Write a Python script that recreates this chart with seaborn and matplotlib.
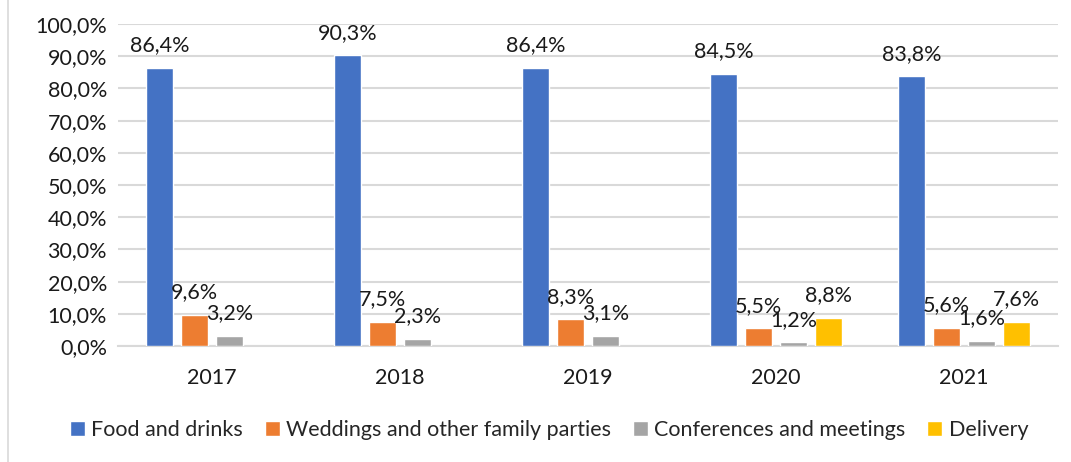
import numpy as np
import pandas as pd
import seaborn as sns
import matplotlib.pyplot as plt
from matplotlib.patches import Rectangle

years = ["2017", "2018", "2019", "2020", "2021"]
series = ["Food and drinks", "Weddings and other family parties",
          "Conferences and meetings", "Delivery"]
food = [86.4, 90.3, 86.4, 84.5, 83.8]
weddings = [9.6, 7.5, 8.3, 5.5, 5.6]
conferences = [3.2, 2.3, 3.1, 1.2, 1.6]
delivery = [np.nan, np.nan, np.nan, 8.8, 7.6]

colors = ["#4472C4", "#ED7D31", "#A5A5A5", "#FFC000"]

rows = []
for name, vals in zip(series, [food, weddings, conferences, delivery]):
    for y, v in zip(years, vals):
        rows.append({"year": y, "serie": name, "valor": v})
df = pd.DataFrame(rows)

sns.set_theme(style="white")
plt.rcParams['font.family'] = ['Lato', 'DejaVu Sans']

fig = plt.figure(figsize=(10.71, 4.62), dpi=100)
ax = fig.add_axes([118 / 1071, 1 - 346 / 462, 940 / 1071, 322 / 462])

sns.barplot(data=df, x="year", y="valor", hue="serie", palette=colors,
            saturation=1, width=0.74, gap=0.22, ax=ax, legend=True, zorder=3)

fs = 15.5
# etiquetas de datos encima de cada barra
for cont in ax.containers:
    for bar in cont:
        h = bar.get_height()
        if np.isnan(h) or h == 0:
            continue
        ax.annotate(f"{h:.1f}%".replace(".", ","),
                    (bar.get_x() + bar.get_width() / 2, h),
                    xytext=(0, 9), textcoords="offset points",
                    ha="center", va="bottom", fontsize=fs, color="#1a1a1a")

ax.set_ylim(0, 100)
ax.set_yticks(range(0, 101, 10))
ax.set_yticklabels([f"{t},0%" for t in range(0, 101, 10)], fontsize=fs, color="#1a1a1a")
ax.tick_params(axis="x", labelsize=fs, colors="#1a1a1a", pad=16, length=0)
ax.tick_params(axis="y", pad=8, length=0)
ax.set_xlabel("")
ax.set_ylabel("")
ax.grid(axis="y", color="#d9d9d9", linewidth=1.5, zorder=0)
ax.set_axisbelow(True)
for s in ["top", "right", "left"]:
    ax.spines[s].set_visible(False)
ax.spines["bottom"].set_color("#d9d9d9")
ax.spines["bottom"].set_linewidth(1.5)

ax.legend(loc="center", bbox_to_anchor=(549 / 1071, 1 - 430 / 462),
          bbox_transform=fig.transFigure, ncol=4, frameon=False,
          fontsize=fs, handlelength=0.7, handleheight=0.7,
          handletextpad=0.3, columnspacing=1.0)

# borde del area del grafico
fig.add_artist(Rectangle((8 / 1071, -0.05), 1.2, 1.2, transform=fig.transFigure,
                         fill=False, edgecolor="#d9d9d9", linewidth=1.2))

plt.savefig("out.png", dpi=100)
plt.close()
